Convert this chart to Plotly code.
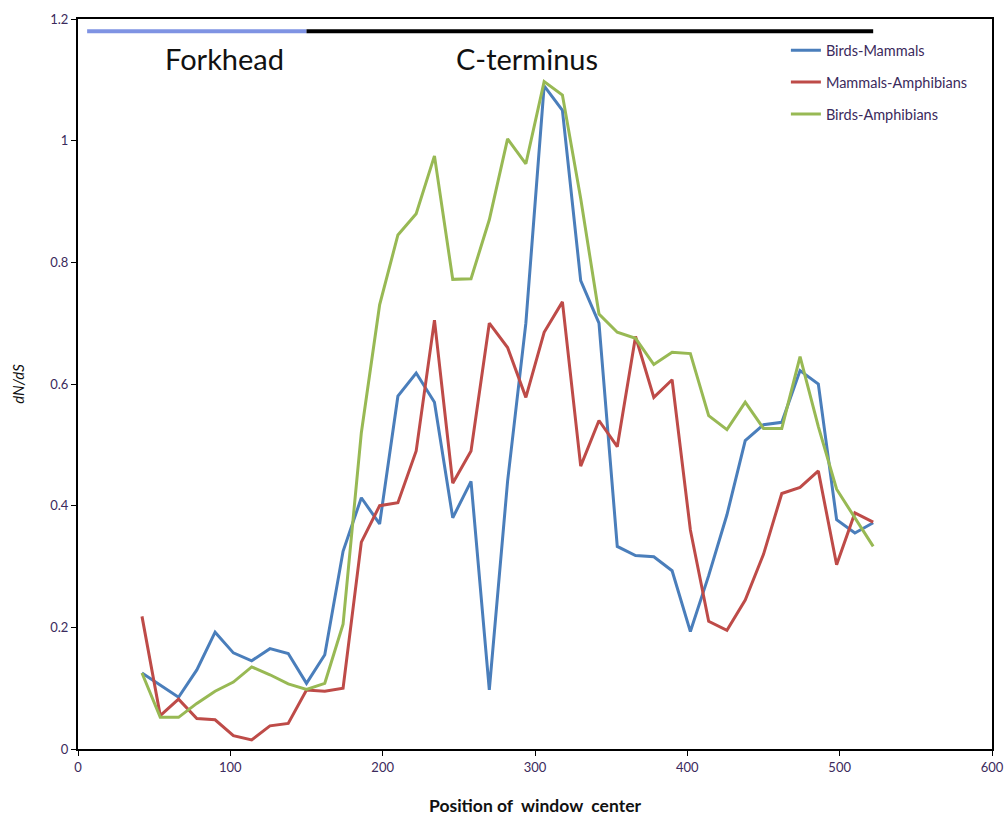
import plotly.graph_objects as go

positions = [42, 54, 66, 78, 90, 102, 114, 126, 138, 150, 162, 174, 186, 198, 210, 222, 234, 246, 258, 270,
             282, 294, 306, 318, 330, 342, 354, 366, 378, 390, 402, 414, 426, 438, 450, 462, 474, 486, 498, 510, 522]

birds_mammals = [0.125, 0.105, 0.085, 0.13, 0.192, 0.158, 0.145, 0.165, 0.157, 0.108, 0.155, 0.325, 0.413, 0.37,
                 0.58, 0.618, 0.57, 0.38, 0.44, 0.097, 0.44, 0.70, 1.09, 1.05, 0.77, 0.70, 0.333, 0.318, 0.316,
                 0.293, 0.193, 0.285, 0.385, 0.507, 0.533, 0.537, 0.622, 0.60, 0.377, 0.355, 0.372]

mammals_amphibians = [0.218, 0.055, 0.082, 0.05, 0.048, 0.022, 0.015, 0.038, 0.042, 0.097, 0.095, 0.10, 0.34, 0.40,
                      0.405, 0.49, 0.705, 0.437, 0.49, 0.70, 0.66, 0.578, 0.685, 0.735, 0.465, 0.54, 0.497, 0.678,
                      0.578, 0.607, 0.36, 0.21, 0.195, 0.245, 0.32, 0.42, 0.43, 0.457, 0.303, 0.388, 0.373]

birds_amphibians = [0.125, 0.052, 0.052, 0.075, 0.095, 0.11, 0.135, 0.122, 0.107, 0.098, 0.108, 0.205, 0.52, 0.73,
                    0.845, 0.88, 0.975, 0.772, 0.773, 0.87, 1.003, 0.962, 1.097, 1.075, 0.905, 0.715, 0.685, 0.675,
                    0.632, 0.652, 0.65, 0.548, 0.525, 0.57, 0.527, 0.527, 0.645, 0.53, 0.427, 0.38, 0.333]

domain_names = ["Forkhead", "C-terminus"]
domain_start = [6, 150]
domain_end = [150, 522]
domain_level = 1.18
domain_label_x = [96, 295]
domain_label_y = 1.135

series_names = ["Birds-Mammals", "Mammals-Amphibians", "Birds-Amphibians"]
series_values = [birds_mammals, mammals_amphibians, birds_amphibians]
series_colors = ["#4a7ebb", "#be4b48", "#98b954"]
domain_colors = ["#7f93e3", "#000000"]

x_ticks = [0, 100, 200, 300, 400, 500, 600]
y_ticks = [0, 0.2, 0.4, 0.6, 0.8, 1.0, 1.2]
y_tick_text = ["0", "0.2", "0.4", "0.6", "0.8", "1", "1.2"]

fig = go.Figure()

for name, s, e, c in zip(domain_names, domain_start, domain_end, domain_colors):
    fig.add_trace(go.Scatter(x=[s, e], y=[domain_level, domain_level], mode="lines",
                             line=dict(color=c, width=4), showlegend=False, hoverinfo="skip"))

for name, vals, col in zip(series_names, series_values, series_colors):
    fig.add_trace(go.Scatter(x=positions, y=vals, mode="lines", name=name, legendgroup=name,
                             line=dict(color=col, width=3)))

for name, lx in zip(domain_names, domain_label_x):
    fig.add_annotation(x=lx, y=domain_label_y, text=name, showarrow=False,
                       font=dict(family="Lato, Open Sans, sans-serif", size=29, color="#111111"))

tick_font = dict(family="Lato, Open Sans, sans-serif", size=13, color="#3b2a5c")

fig.update_layout(
    width=1008, height=823,
    paper_bgcolor="white", plot_bgcolor="white",
    margin=dict(l=78, r=16, t=19, b=74),
    legend=dict(x=0.7745, y=0.979, xanchor="left", yanchor="top",
                bgcolor="rgba(0,0,0,0)", itemwidth=30, tracegroupgap=10,
                font=dict(family="Lato, Open Sans, sans-serif", size=14.5, color="#3b2a5c")),
    xaxis=dict(range=[0, 600], tickvals=x_ticks, showgrid=False, zeroline=False, automargin=False,
               showline=True, linecolor="black", linewidth=2, mirror=True,
               ticks="outside", ticklen=5, tickcolor="black", tickfont=tick_font,
               title=dict(text="<b>Position of  window  center</b>", standoff=26,
                          font=dict(family="Lato, Open Sans, sans-serif", size=17.5, color="#111111"))),
    yaxis=dict(range=[0, 1.2], tickvals=y_ticks, ticktext=y_tick_text, showgrid=False, zeroline=False,
               automargin=False,
               showline=True, linecolor="black", linewidth=2, mirror=True,
               ticks="outside", ticklen=5, tickcolor="black", tickfont=tick_font,
               title=dict(text="<i>dN/dS</i>", standoff=22,
                          font=dict(family="Lato, Open Sans, sans-serif", size=15, color="#111111"))),
)

fig.write_html("out.html", config={"displayModeBar": False},
               post_script="document.body.style.margin='0';document.body.style.overflow='hidden';")
